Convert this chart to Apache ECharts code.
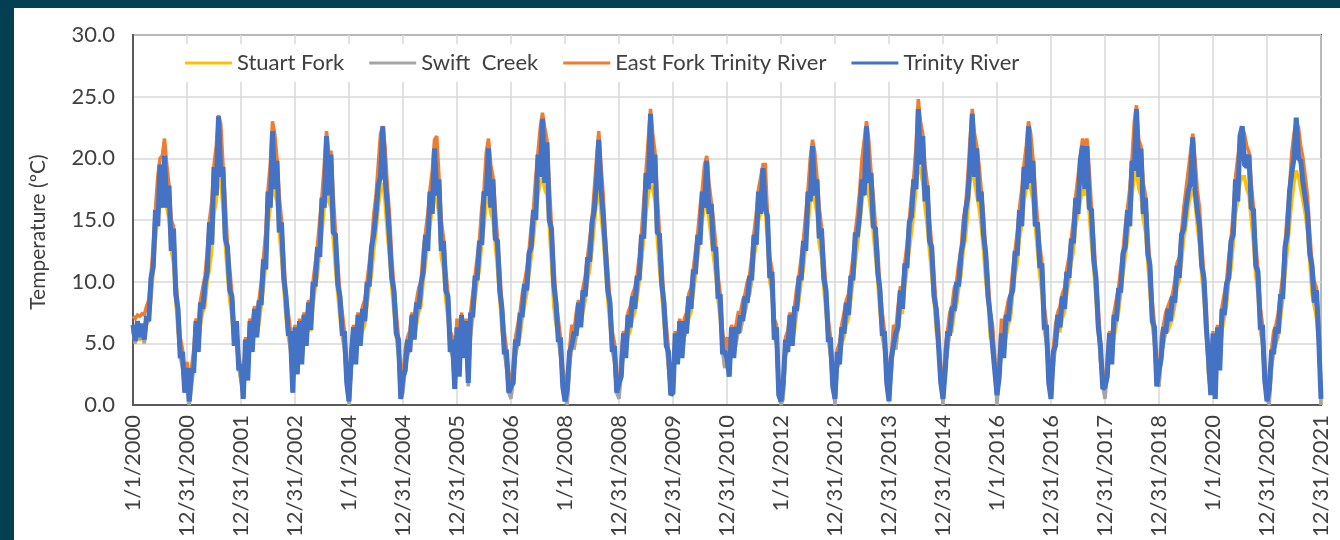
<!DOCTYPE html>
<html><head><meta charset="utf-8">
<script src="https://cdn.jsdelivr.net/npm/echarts@6/dist/echarts.min.js"></script>
<style>
html,body{margin:0;padding:0;background:#023F50;width:1340px;height:540px;overflow:hidden}
#frame{position:absolute;left:14px;top:8px;width:1326px;height:532px;background:#fff}
#chart{width:1326px;height:532px}
</style></head><body><div id="frame"><div id="chart"></div></div>
<script>
// x tick labels (one per 365-day step on the original category axis)
const tickLabels = ['1/1/2000','12/31/2000','12/31/2001','12/31/2002','1/1/2004','12/31/2004','12/31/2005','12/31/2006','1/1/2008','12/31/2008','12/31/2009','12/31/2010','1/1/2012','12/31/2012','12/31/2013','12/31/2014','1/1/2016','12/31/2016','12/31/2017','12/31/2018','1/1/2020','12/31/2020','12/31/2021'];
const yTicks = [0, 5, 10, 15, 20, 25, 30];
const seriesNames = ['Stuart Fork', 'Swift  Creek', 'East Fork Trinity River', 'Trinity River'];

// semi-monthly readings (24 per year, 2000-2021, plus 12/31/2021), °C
const stuartFork = [
6.0,5.0,6.0,5.2,6.0,5.0,6.5,6.8,8.5,10.8,13.5,15.0,16.5,16.0,17.0,16.0,15.0,12.5,11.5,8.5,6.0,4.0,3.0,1.5,
2.0,0.5,2.0,3.0,5.0,4.5,6.5,7.5,8.0,10.0,11.0,12.5,15.5,16.5,18.5,18.0,16.0,13.0,10.5,8.5,7.0,5.0,5.0,3.0,
2.0,1.0,4.0,2.5,5.0,4.5,6.0,5.5,6.5,8.0,9.5,11.5,14.5,16.0,18.0,17.0,16.5,14.0,12.0,9.5,7.0,5.5,4.5,1.5,
5.0,3.0,5.5,3.5,5.5,5.0,6.5,6.0,8.0,9.5,10.5,12.5,14.0,16.0,18.5,16.5,16.0,13.5,11.0,9.0,7.0,5.5,4.5,2.0,
0.5,3.0,5.0,3.5,5.5,5.0,6.0,6.5,8.0,9.5,10.5,12.5,14.0,16.0,17.5,18.0,16.5,14.0,12.0,9.5,7.5,5.5,4.0,1.0,
1.5,3.0,4.0,4.5,5.5,5.5,6.5,7.5,8.0,10.0,11.5,13.0,14.5,16.0,17.0,16.5,15.5,12.0,11.0,8.5,7.0,4.5,4.0,1.5,
5.0,3.0,6.0,4.0,5.0,2.0,5.5,7.0,8.5,10.0,11.0,13.0,14.5,16.5,17.0,15.5,15.0,13.0,11.0,8.5,6.0,4.5,3.0,1.5,
1.0,2.0,4.0,5.0,5.5,7.0,8.0,9.0,10.5,12.0,13.5,15.5,17.0,18.0,18.5,17.5,17.0,14.5,11.5,8.0,6.5,5.5,4.0,2.0,
1.0,0.5,3.0,5.0,4.5,5.5,6.5,6.5,7.5,8.5,10.0,11.0,12.5,14.5,16.5,17.5,15.5,13.5,11.0,8.5,6.5,4.5,3.5,1.0,
1.0,2.5,4.5,4.0,5.5,6.0,7.0,7.5,8.5,10.0,11.5,13.5,15.5,17.0,18.0,17.5,16.5,13.5,11.0,9.0,6.5,5.0,3.0,1.0,
1.5,4.5,3.5,5.5,4.0,5.5,6.0,7.0,7.5,9.0,10.5,12.0,13.5,15.0,16.0,16.5,15.0,13.5,12.0,10.5,8.5,7.0,4.5,3.0,
4.0,2.5,5.0,4.0,5.0,6.0,6.0,7.0,7.5,8.5,9.0,10.0,12.0,13.0,15.0,15.5,16.5,16.0,13.0,10.0,9.0,5.5,5.0,1.0,
0.5,1.0,4.0,4.5,5.5,5.0,6.0,7.5,8.5,10.0,11.0,13.0,14.5,16.5,17.5,16.5,15.5,13.0,12.0,9.5,7.5,5.5,4.0,2.0,
1.0,3.0,3.5,5.0,5.5,6.5,7.0,8.5,10.0,11.5,13.0,14.5,16.5,17.5,18.5,17.0,15.5,14.0,12.0,10.0,7.5,5.5,4.5,2.5,
1.0,2.5,5.0,4.5,6.0,7.5,7.5,9.5,11.0,12.5,14.0,15.5,17.5,19.5,19.0,18.0,16.0,14.5,12.5,10.5,8.5,6.0,5.0,2.0,
0.5,3.0,4.5,6.0,6.0,7.5,8.0,9.5,10.5,12.5,13.5,15.5,18.0,19.5,18.0,17.0,16.0,14.5,12.5,10.0,8.5,5.5,5.0,3.0,
0.5,2.5,4.5,4.0,5.5,6.5,7.0,9.0,10.5,11.5,13.5,14.5,16.5,17.5,18.5,17.5,16.5,14.5,12.5,10.5,9.0,6.0,5.0,2.5,
1.0,3.0,5.0,6.0,6.0,7.0,7.5,9.0,10.0,11.5,12.5,14.5,15.5,16.5,17.5,17.0,17.5,15.5,13.0,11.0,8.5,6.0,3.5,1.5,
1.0,2.5,4.5,3.5,5.5,6.5,7.5,9.0,10.5,12.0,13.5,15.0,17.0,18.5,19.0,17.5,17.0,15.0,14.0,11.5,9.0,6.5,5.0,2.0,
1.5,4.0,5.0,6.0,6.0,6.5,7.0,8.0,9.5,10.0,11.5,13.5,14.5,16.0,17.0,17.5,16.5,14.5,13.0,10.5,8.5,6.0,2.5,1.0,
4.5,1.0,5.0,3.0,6.0,7.0,8.0,10.0,11.0,13.0,15.5,16.5,18.0,18.5,18.5,17.5,17.0,15.0,13.0,10.5,9.0,6.0,5.0,2.5,
1.0,0.5,3.0,4.5,5.0,5.5,7.0,8.5,10.5,12.5,14.5,16.5,18.0,19.0,18.5,17.5,16.5,15.5,14.0,11.5,9.0,8.0,7.0,5.0,
0.0];

const swiftCreek = [
6.0,5.0,6.3,5.3,6.2,5.0,6.8,7.0,9.0,11.5,14.5,16.5,18.3,17.5,19.0,18.0,16.3,13.5,12.8,9.0,6.5,4.0,3.0,1.0,
2.0,0.0,1.5,3.0,5.5,4.5,7.0,8.0,8.5,11.0,13.5,15.0,17.8,19.0,21.5,20.5,17.8,15.0,11.5,9.5,7.5,5.0,5.5,3.0,
2.0,0.5,4.0,2.0,5.5,4.5,6.5,5.5,7.0,8.5,10.5,12.5,16.0,17.5,20.5,19.5,18.0,15.5,13.5,10.5,7.5,6.0,4.5,1.0,
5.0,2.5,5.5,3.5,6.0,5.0,7.0,6.3,8.5,10.0,11.5,13.5,15.5,17.5,20.0,18.5,19.0,15.5,12.5,10.0,7.5,6.0,4.5,2.0,
0.0,3.0,5.0,3.5,6.0,5.0,6.5,7.0,8.5,10.0,11.5,14.0,15.5,17.5,20.0,21.0,19.0,16.5,14.0,10.5,8.0,6.0,4.0,0.5,
1.0,3.0,4.0,4.5,6.0,5.5,7.0,8.0,8.5,11.0,12.5,14.0,16.0,17.5,19.5,19.0,17.0,13.5,12.0,9.5,7.5,4.5,4.0,1.5,
5.0,2.5,6.0,4.0,5.5,1.5,6.0,7.5,9.0,10.5,12.0,14.5,16.0,18.5,19.5,17.5,17.0,14.5,12.0,9.5,6.5,4.5,3.0,1.0,
0.5,2.0,4.0,5.0,6.0,7.5,8.5,9.5,11.0,13.0,14.5,17.0,19.0,20.5,21.5,20.5,19.5,16.5,13.0,10.0,7.0,5.5,4.0,2.0,
1.0,0.0,3.0,5.0,4.5,6.0,7.0,6.5,8.0,9.0,10.5,12.0,13.5,16.0,18.0,20.0,18.0,15.5,12.0,9.5,7.0,4.5,3.5,1.0,
0.5,2.5,4.5,4.0,6.0,6.5,7.5,8.0,9.0,10.5,12.5,15.0,17.5,19.5,21.5,20.0,19.0,15.5,12.5,10.0,7.0,5.0,3.0,1.0,
1.5,4.5,3.5,5.5,4.0,5.5,6.0,7.5,8.0,9.5,11.0,12.5,14.5,16.0,17.5,18.5,16.5,15.0,13.5,11.5,9.0,7.5,4.5,3.0,
4.0,2.5,5.0,4.0,5.0,6.0,6.0,7.0,7.5,8.5,9.0,10.5,12.5,14.0,16.0,17.0,18.0,17.5,14.0,10.5,9.5,5.5,5.0,1.0,
0.0,0.5,4.0,4.5,6.0,5.0,6.5,8.0,9.0,10.5,12.0,14.0,16.0,18.0,19.5,18.5,17.0,14.5,13.0,10.5,8.0,5.5,4.0,2.0,
0.0,3.0,3.5,5.0,6.0,7.0,7.5,9.0,10.5,12.5,14.0,16.0,18.5,19.5,21.0,19.5,17.5,15.5,13.0,11.0,8.0,6.0,4.5,2.5,
0.5,2.5,5.0,4.5,6.5,8.0,8.0,10.0,11.5,13.5,15.5,17.0,19.5,22.0,21.0,20.0,18.0,16.5,13.5,11.5,9.0,6.5,5.0,2.0,
0.0,3.0,4.5,6.0,6.5,8.0,8.5,10.0,11.0,13.5,14.5,17.0,19.5,21.5,20.0,19.0,18.0,16.0,14.0,11.0,9.0,6.0,5.0,3.0,
0.0,2.5,4.5,4.0,6.0,7.0,7.5,9.5,11.0,12.5,14.5,16.0,18.0,19.0,21.0,20.0,18.5,16.0,13.5,11.5,10.0,6.5,5.0,2.5,
0.5,3.0,5.0,6.0,6.5,7.5,8.0,9.5,10.5,12.0,13.5,15.5,17.0,18.0,19.5,19.0,19.5,17.5,14.5,12.0,9.0,6.5,3.5,1.5,
0.5,2.5,4.5,3.5,6.0,7.0,8.0,9.5,11.0,13.0,14.5,16.0,18.5,21.0,22.0,19.5,19.5,16.5,15.5,12.5,10.0,7.0,5.0,2.0,
1.5,4.0,5.0,6.0,6.5,7.0,7.5,8.5,10.0,10.5,12.5,14.5,16.0,17.5,18.5,20.0,18.5,16.0,14.5,11.5,9.0,6.5,2.5,1.0,
4.5,0.5,5.0,3.0,6.5,7.5,8.5,10.5,12.0,14.0,17.0,18.5,20.0,21.0,20.5,19.5,19.0,16.5,14.5,11.5,9.5,6.5,5.0,2.0,
0.5,0.0,3.0,4.5,5.0,6.0,7.5,9.0,11.5,14.0,16.0,18.5,20.0,21.5,20.5,19.5,18.0,17.0,15.5,12.5,10.0,8.5,8.0,5.5,
0.0];

const eastForkTrinity = [
7.2,7.0,7.3,7.2,7.4,7.3,8.0,8.5,10.5,13.0,16.0,18.5,20.0,20.2,21.6,19.5,17.8,15.0,14.5,10.5,8.0,5.5,4.5,2.5,
3.5,1.5,3.0,4.5,7.0,6.5,8.5,9.5,10.5,12.5,15.0,16.5,19.5,21.0,23.5,22.8,19.5,16.5,13.0,11.0,9.0,6.5,6.5,4.0,
3.0,0.5,5.5,3.5,7.0,6.5,8.0,7.5,8.5,10.0,12.0,14.0,17.5,19.5,23.0,22.0,20.0,17.0,15.0,12.0,9.0,7.5,6.0,3.0,
6.5,2.5,7.0,5.0,7.5,6.5,8.5,8.0,10.0,11.5,13.0,15.0,17.0,19.5,22.2,20.5,20.5,17.0,14.0,11.5,9.0,7.5,6.0,3.0,
1.0,4.5,6.5,5.0,7.5,6.5,8.0,8.5,10.0,11.5,13.0,15.5,17.0,19.5,22.0,22.6,21.0,18.0,15.5,12.0,9.5,7.5,5.5,2.0,
2.5,4.5,5.5,6.0,7.5,7.0,8.5,9.5,10.0,12.5,14.0,15.5,17.5,19.0,21.5,21.8,18.5,15.0,13.5,11.0,9.0,6.0,5.5,2.5,
7.0,4.0,7.5,5.5,7.0,3.0,7.5,9.0,10.5,12.0,13.5,16.0,17.5,20.5,21.6,19.5,18.5,16.0,13.5,11.0,8.0,6.0,4.5,2.5,
1.5,3.5,5.5,6.5,7.5,9.0,10.0,11.0,12.5,14.5,16.0,18.5,20.5,22.5,23.7,22.5,21.5,18.0,14.5,11.5,8.5,7.0,5.5,3.0,
2.0,1.5,4.5,6.5,6.0,7.5,8.5,8.0,9.5,10.5,12.0,13.5,15.0,17.5,20.0,22.2,19.5,17.0,13.5,11.0,8.5,6.0,5.0,2.0,
1.5,4.0,6.0,5.5,7.5,8.0,9.0,9.5,10.5,12.0,14.0,16.5,19.0,21.5,24.0,22.0,20.5,17.0,14.0,11.5,8.5,6.5,4.5,2.0,
2.5,6.0,5.0,7.0,5.5,7.0,7.5,9.0,9.5,11.0,12.5,14.0,16.0,17.5,19.5,20.2,18.0,16.5,15.0,13.0,10.5,9.0,6.0,4.5,
5.5,4.0,6.5,5.5,6.5,7.5,7.5,8.5,9.0,10.0,10.5,12.0,14.0,15.5,17.5,18.5,19.5,19.5,15.5,12.0,11.0,7.0,6.5,2.0,
1.0,2.0,5.5,6.0,7.5,6.5,8.0,9.5,10.5,12.0,13.5,15.5,17.5,20.0,21.5,20.5,18.5,16.0,14.5,12.0,9.5,7.0,5.5,3.0,
1.5,4.5,5.0,6.5,7.5,8.5,9.0,10.5,12.0,14.0,15.5,17.5,20.0,21.5,23.0,21.5,19.0,17.0,14.5,12.5,9.5,7.5,6.0,3.5,
1.5,4.0,6.5,6.0,8.0,9.5,9.5,11.5,13.0,15.0,17.0,18.5,21.0,24.8,23.0,22.0,19.5,18.0,15.0,13.0,10.5,8.0,6.5,3.0,
1.0,4.5,6.0,7.5,8.0,9.5,10.0,11.5,12.5,15.0,16.0,18.5,21.5,24.0,22.0,21.0,19.5,17.5,15.5,12.5,10.5,7.5,6.5,4.0,
1.0,4.0,7.0,5.5,7.5,8.5,9.0,11.0,12.5,14.0,16.0,17.5,19.5,21.0,23.0,22.0,20.0,17.5,15.0,13.0,11.5,8.0,6.5,3.5,
1.5,4.5,6.5,7.5,8.0,9.0,9.5,11.0,12.0,13.5,15.0,17.0,18.5,20.0,21.6,21.0,21.6,19.0,16.0,13.5,10.5,8.0,5.0,2.5,
1.5,4.0,6.0,5.0,7.5,8.5,9.5,11.0,12.5,14.5,16.0,17.5,20.0,23.0,24.3,21.5,21.0,18.0,17.0,14.0,11.5,8.5,6.5,3.0,
2.5,5.5,6.5,7.5,8.0,8.5,9.0,10.0,11.5,12.0,14.0,16.0,17.5,19.0,20.5,22.0,20.0,17.5,16.0,13.0,10.5,8.0,4.0,2.0,
6.0,2.0,6.5,4.5,8.0,9.0,10.0,12.0,13.5,15.5,18.5,20.0,21.5,22.5,22.0,21.0,20.5,18.0,16.0,13.0,11.0,8.0,6.5,3.5,
1.5,1.5,4.5,6.0,6.5,7.5,9.0,10.5,13.0,15.5,17.5,20.5,22.0,23.0,22.5,21.0,20.0,18.5,17.0,14.0,11.5,10.0,9.5,6.5,
1.0];

const trinityRiver = [
6.5,5.2,6.8,5.5,6.6,5.3,7.2,6.8,10.3,11.2,15.8,14.5,19.5,16.0,20.2,16.0,17.8,12.5,14.3,9.0,7.8,3.8,4.3,1.0,
3.0,0.3,2.8,2.8,6.8,4.3,8.3,7.8,9.8,10.8,14.8,13.0,19.3,17.0,23.4,18.5,19.3,13.5,12.8,9.3,8.8,4.8,6.8,2.8,
3.3,0.5,5.3,2.0,6.8,4.3,7.8,5.5,8.3,8.3,11.8,11.0,17.3,16.0,22.2,17.5,19.8,14.0,14.8,10.3,8.8,5.8,5.8,1.0,
6.3,2.5,6.8,3.3,7.3,4.8,8.3,6.1,9.8,9.8,12.8,12.0,16.8,16.0,21.8,17.0,20.3,14.0,13.8,9.8,8.8,5.8,5.8,1.8,
0.3,4.0,6.3,3.3,7.3,4.8,7.8,6.8,9.8,9.8,12.8,13.8,15.5,17.8,18.5,22.6,18.5,16.3,13.5,10.3,9.3,5.8,5.3,0.5,
2.3,2.8,5.3,4.3,7.3,5.3,8.3,7.8,9.8,10.8,13.8,12.5,17.3,15.5,20.8,17.0,18.3,12.5,13.3,9.3,8.8,4.3,5.3,1.3,
6.3,2.3,7.3,3.8,6.8,1.8,7.3,7.3,10.3,10.3,13.3,13.0,17.3,17.0,20.8,16.0,18.3,13.5,13.3,9.3,7.8,4.3,4.3,1.0,
1.5,1.8,5.3,4.8,7.3,7.3,9.8,9.3,12.3,12.8,15.8,15.0,20.3,18.5,23.2,18.0,21.3,15.0,14.3,9.8,8.3,5.3,5.3,1.5,
0.3,1.3,4.3,4.8,5.8,5.8,8.3,6.3,9.3,8.8,11.8,11.8,14.8,15.8,18.0,21.5,17.5,15.3,12.5,9.3,8.3,4.3,4.8,1.0,
1.8,2.3,5.8,3.8,7.3,6.3,8.8,7.8,10.3,10.3,13.8,13.5,18.8,17.5,23.6,18.0,20.3,14.0,13.8,9.8,8.3,4.8,4.3,0.8,
1.0,5.8,3.3,6.8,3.8,6.8,5.8,8.8,7.8,10.8,10.8,13.8,13.0,17.3,16.0,19.8,15.5,16.3,12.5,12.8,8.8,8.8,4.3,4.3,
3.8,2.3,6.3,3.8,6.3,5.8,7.3,6.8,8.8,8.3,10.3,10.3,13.8,13.0,17.3,15.5,19.2,16.0,15.3,10.3,10.8,5.3,6.3,0.8,
0.3,1.8,5.3,4.3,7.3,4.8,7.8,7.8,10.3,10.3,13.3,12.5,17.3,16.5,21.0,17.0,18.3,13.5,14.3,10.3,9.3,5.3,5.3,1.5,
0.5,4.3,3.3,6.3,5.8,8.3,7.3,10.3,10.3,13.8,13.8,15.5,18.3,17.0,22.6,18.0,18.8,14.5,14.3,10.8,9.3,5.8,5.8,1.8,
0.3,3.8,4.8,5.8,6.3,9.3,7.8,11.3,11.3,14.8,15.3,18.3,17.5,24.0,19.5,21.8,16.5,17.8,13.3,12.8,8.8,7.8,4.8,1.8,
0.5,2.8,5.8,5.8,7.8,7.8,9.8,9.8,12.3,13.3,15.8,16.8,19.5,23.6,18.5,20.8,16.5,17.3,13.8,12.3,8.8,7.3,4.8,2.8,
0.8,2.3,5.8,3.8,7.3,6.8,8.8,9.3,12.3,12.3,15.8,14.5,19.3,17.5,22.6,18.0,19.8,14.5,14.8,11.3,11.3,6.3,6.3,1.8,
0.5,4.3,4.8,7.3,6.3,8.8,7.8,10.8,10.3,13.3,13.3,16.8,15.5,19.8,21.0,17.5,21.0,16.0,15.8,11.8,10.3,6.3,4.8,1.3,
1.5,2.3,5.8,3.3,7.3,6.8,9.3,9.3,12.3,12.8,15.8,14.5,19.8,19.0,24.0,18.5,20.8,15.5,16.8,12.3,11.3,6.8,6.3,1.5,
2.8,3.8,6.3,5.8,7.8,6.8,8.8,8.3,11.3,10.3,13.8,14.3,16.0,17.3,18.0,21.7,17.5,15.8,14.5,11.3,10.3,6.3,3.8,0.8,
5.8,0.5,6.3,2.8,7.8,7.3,9.8,10.3,13.3,13.8,18.3,16.5,21.8,22.6,19.5,19.3,20.3,16.0,15.8,11.3,10.8,6.3,6.3,2.0,
0.3,1.3,4.3,4.3,6.3,5.8,8.8,8.8,12.8,13.8,17.3,18.8,20.0,23.3,20.0,19.8,18.0,16.8,15.5,12.3,11.3,8.3,9.3,5.3,
0.5];

const samplesPerTick = 24;
const palette = ['#FFC000', '#A5A5A5', '#ED7D31', '#4472C4'];
const lineWidths = [3.5, 3.5, 3.5, 5];
const FONT = 'Lato, "Open Sans", sans-serif';
const TXT = '#404040';

function toPoints(arr) { return arr.map((v, i) => [i / samplesPerTick, v]); }
const allSeries = [stuartFork, swiftCreek, eastForkTrinity, trinityRiver];

const chart = echarts.init(document.getElementById('chart'), null, {renderer: 'canvas'});
chart.setOption({
  animation: false,
  color: palette,
  grid: {left: 119, right: 19, top: 27, bottom: 135, show: true, borderColor: '#595959', borderWidth: 2, backgroundColor: 'transparent'},
  legend: {
    data: seriesNames, left: 161, top: 36, icon: 'rect', itemWidth: 47, itemHeight: 3, itemGap: 25,
    backgroundColor: '#ffffff', padding: [8, 10],
    textStyle: {fontFamily: FONT, fontSize: 22, color: TXT}
  },
  xAxis: {
    type: 'value', min: 0, max: tickLabels.length - 1, interval: 1,
    axisLine: {show: true, lineStyle: {color: '#595959', width: 2}},
    axisTick: {show: false},
    splitLine: {show: true, lineStyle: {color: '#d9d9d9', width: 1.5}},
    axisLabel: {rotate: 90, margin: 10, fontFamily: FONT, fontSize: 22, color: TXT,
      formatter: v => tickLabels[Math.round(v)] || ''}
  },
  yAxis: {
    type: 'value', min: yTicks[0], max: yTicks[yTicks.length - 1], interval: 5,
    name: 'Temperature (ºC)', nameLocation: 'middle', nameRotate: 90, nameGap: 84,
    nameTextStyle: {fontFamily: FONT, fontSize: 21, color: TXT, padding: [0, 24, 0, 0]},
    axisLine: {show: true, lineStyle: {color: '#595959', width: 2}},
    axisTick: {show: false},
    splitLine: {show: true, lineStyle: {color: '#d9d9d9', width: 1.5}},
    axisLabel: {margin: 18, fontFamily: FONT, fontSize: 22, color: TXT, formatter: v => v.toFixed(1)}
  },
  series: allSeries.map((arr, k) => ({
    name: seriesNames[k], type: 'line', data: toPoints(arr),
    symbol: 'none', showSymbol: false, sampling: null,
    lineStyle: {width: lineWidths[k], color: palette[k], join: 'miter', miterLimit: 2},
    itemStyle: {color: palette[k]},
    clip: true
  }))
});
</script>
</body></html>
